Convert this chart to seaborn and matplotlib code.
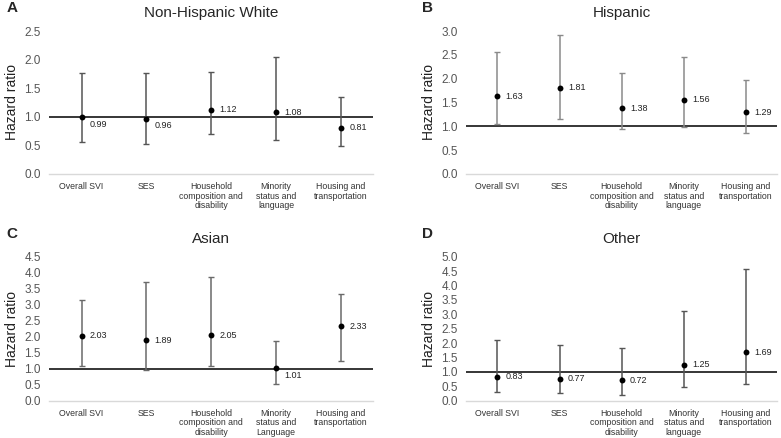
import numpy as np
import pandas as pd
import matplotlib
matplotlib.use("Agg")
import matplotlib.pyplot as plt
import seaborn as sns

####################################################################################
## DATA
####################################################################################
categories = ["Overall SVI", "SES", "Household\ncomposition and\ndisability",
              "Minority\nstatus and\nlanguage", "Housing and\ntransportation"]
categories_c = ["Overall SVI", "SES", "Household\ncomposition and\ndisability",
                "Minority\nstatus and\nLanguage", "Housing and\ntransportation"]

white_hr = [0.99, 0.96, 1.12, 1.08, 0.81]
white_lo = [0.56, 0.53, 0.70, 0.59, 0.49]
white_hi = [1.77, 1.76, 1.79, 2.05, 1.34]

hisp_hr = [1.63, 1.81, 1.38, 1.56, 1.29]
hisp_lo = [1.05, 1.15, 0.94, 0.98, 0.86]
hisp_hi = [2.57, 2.91, 2.11, 2.46, 1.97]

asian_hr = [2.03, 1.89, 2.05, 1.01, 2.33]
asian_lo = [1.08, 0.95, 1.08, 0.52, 1.25]
asian_hi = [3.16, 3.70, 3.87, 1.88, 3.34]

other_hr = [0.83, 0.77, 0.72, 1.25, 1.69]
other_lo = [0.29, 0.26, 0.21, 0.48, 0.59]
other_hi = [2.10, 1.93, 1.84, 3.10, 4.56]

panels = [
    ("A", "Non-Hispanic White", categories, white_hr, white_lo, white_hi, 2.5),
    ("B", "Hispanic", categories, hisp_hr, hisp_lo, hisp_hi, 3.0),
    ("C", "Asian", categories_c, asian_hr, asian_lo, asian_hi, 4.5),
    ("D", "Other", categories, other_hr, other_lo, other_hi, 5.0),
]

####################################################################################
## Viz
####################################################################################
sns.set_style("white")
plt.rcParams['font.family'] = ['Liberation Sans', 'DejaVu Sans']

fig = plt.figure(figsize=(7.81, 4.38), dpi=100)

# axes boxes [left, bottom, width, height] and bar colours per panel
boxes = [[0.063, 0.603, 0.415, 0.326],
         [0.597, 0.603, 0.398, 0.326],
         [0.063, 0.085, 0.415, 0.329],
         [0.597, 0.085, 0.398, 0.329]]
bar_colors = ["#555555", "#8a8a8a", "#6a6a6a", "#555555"]

for (letter, title, cats, hr, lo, hi, ymax), box, bc in zip(panels, boxes, bar_colors):
    ax = fig.add_axes(box)
    df = pd.DataFrame({"cat": cats, "hr": hr, "lo": lo, "hi": hi})
    x = np.arange(len(df))

    ax.axhline(1.0, color="black", lw=1.1, zorder=1)
    ax.errorbar(x, df["hr"], yerr=[df["hr"] - df["lo"], df["hi"] - df["hr"]],
                fmt="none", ecolor=bc, elinewidth=1.1, capsize=2, capthick=1, zorder=2)
    sns.scatterplot(x=x, y=df["hr"], ax=ax, color="black", s=18,
                    edgecolor="black", linewidth=0, zorder=3)

    for xi, v in zip(x, df["hr"]):
        dy = -5 if abs(v - 1) < 0.06 else 0
        ax.annotate(f"{v:.2f}", (xi, v), xytext=(6, dy), textcoords="offset points",
                    va="center", ha="left", fontsize=6.5, color="#222222")

    ax.set_xlim(-0.5, len(df) - 0.5)
    ax.set_ylim(0, ymax)
    ax.set_yticks(np.arange(0, ymax + 0.01, 0.5))
    ax.set_yticklabels([f"{t:.1f}" for t in np.arange(0, ymax + 0.01, 0.5)])
    ax.set_xticks(x)
    ax.set_xticklabels(df["cat"], fontsize=6.3, color="#333333", linespacing=1.05)
    ax.tick_params(axis="y", labelsize=8.5, labelcolor="#555555", length=0, pad=6)
    ax.tick_params(axis="x", length=0, pad=6)
    for s in ["top", "right", "left"]:
        ax.spines[s].set_visible(False)
    ax.spines["bottom"].set_color("#d9d9d9")
    ax.spines["bottom"].set_linewidth(1)
    ax.set_ylabel("Hazard ratio", fontsize=10, color="#222222", labelpad=4)
    ax.set_xlabel("")
    ax.set_title(title, fontsize=11, pad=10)

    fig.text(0.008 if letter in "AC" else 0.54, box[1] + box[3] + 0.052, letter,
             fontsize=11, fontweight="bold", va="center", ha="left")

fig.savefig("out.png", dpi=100)
